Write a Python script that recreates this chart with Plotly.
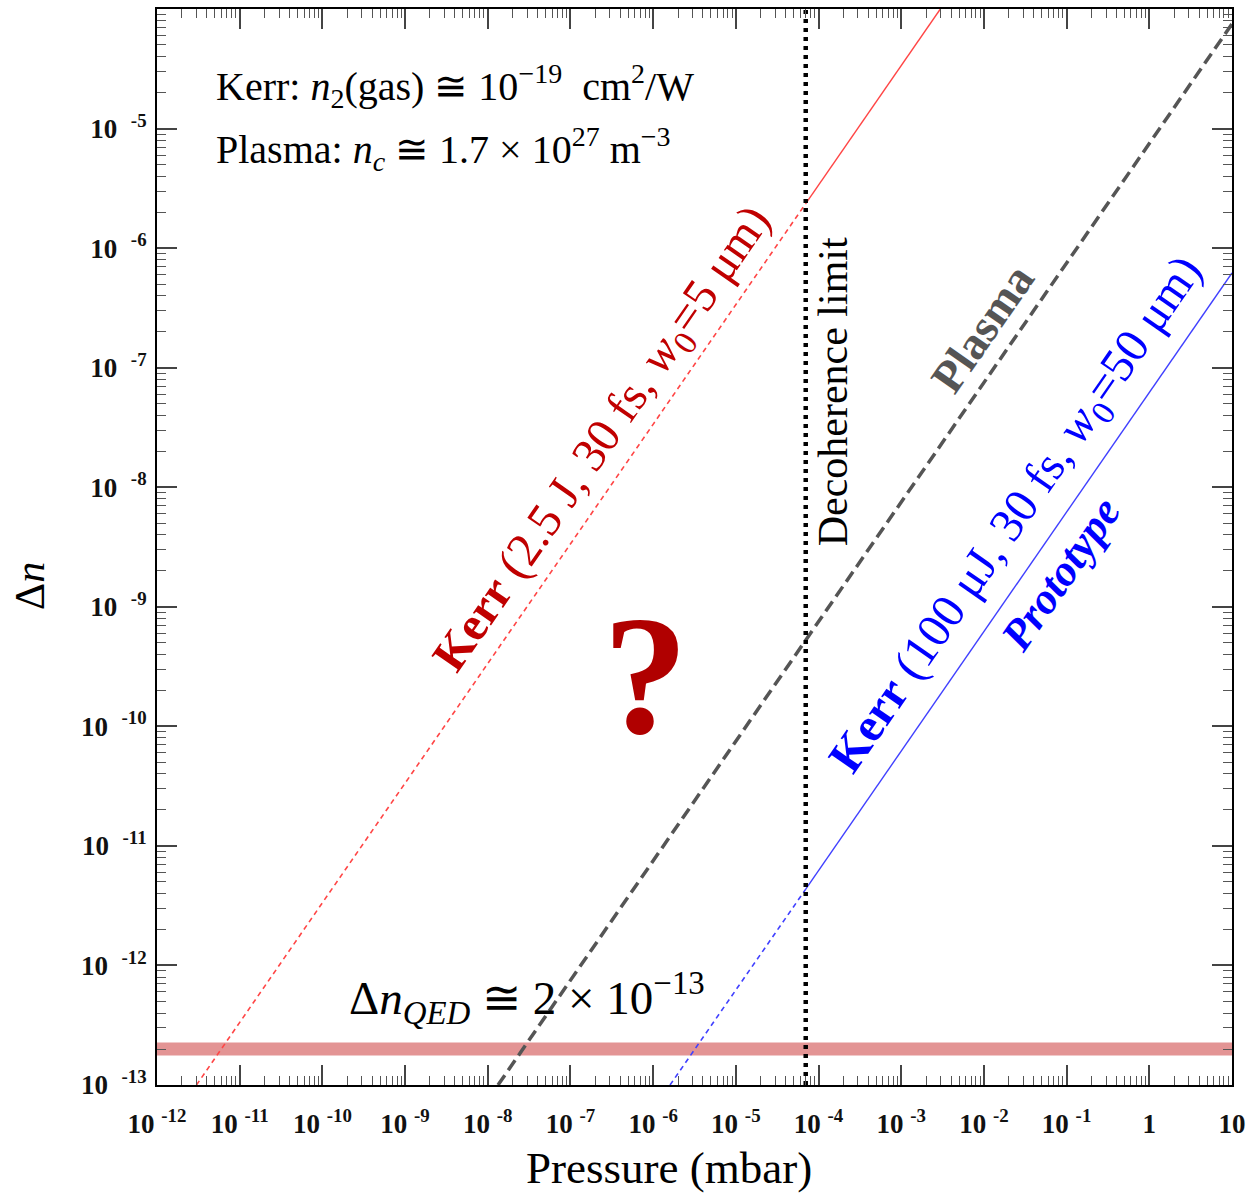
import plotly.graph_objects as go

# ---- data (pressure in mbar, refractive-index change Δn) ----
decoherence_p = 7.0e-5                     # decoherence-limit pressure
decoherence_dn = [1.0e-13, 1.0e-4]

kerr_hi_p_dashed = [3.0e-12, 7.0e-5]       # Kerr, 2.5 J, w0 = 5 µm
kerr_hi_dn_dashed = [1.0e-13, 2.36e-6]
kerr_hi_p_solid = [7.0e-5, 2.97e-3]
kerr_hi_dn_solid = [2.36e-6, 1.0e-4]

plasma_p = [1.33e-8, 10.0]                 # plasma contribution
plasma_dn = [1.0e-13, 7.5e-5]

kerr_lo_p_dashed = [1.6e-6, 7.0e-5]        # Kerr, 100 µJ, w0 = 50 µm (prototype)
kerr_lo_dn_dashed = [1.0e-13, 4.35e-12]
kerr_lo_p_solid = [7.0e-5, 10.0]
kerr_lo_dn_solid = [4.35e-12, 6.2e-7]

qed_p = [1.0e-12, 10.0]                    # QED target level
qed_dn = [2.0e-13, 2.0e-13]

x_tickvals = [1e-12, 1e-11, 1e-10, 1e-9, 1e-8, 1e-7, 1e-6, 1e-5, 1e-4, 1e-3, 1e-2, 1e-1, 1, 10]
x_ticktext = ["10&nbsp;<sup>-12</sup>", "10&nbsp;<sup>-11</sup>", "10&nbsp;<sup>-10</sup>",
              "10&nbsp;<sup>-9</sup>", "10&nbsp;<sup>-8</sup>", "10&nbsp;<sup>-7</sup>",
              "10&nbsp;<sup>-6</sup>", "10&nbsp;<sup>-5</sup>", "10&nbsp;<sup>-4</sup>",
              "10&nbsp;<sup>-3</sup>", "10&nbsp;<sup>-2</sup>", "10&nbsp;<sup>-1</sup>",
              "1", "10"]
y_tickvals = [1e-13, 1e-12, 1e-11, 1e-10, 1e-9, 1e-8, 1e-7, 1e-6, 1e-5]
y_ticktext = ["10&nbsp;&nbsp;<sup>-13</sup>", "10&nbsp;&nbsp;<sup>-12</sup>",
              "10&nbsp;&nbsp;<sup>-11</sup>", "10&nbsp;&nbsp;<sup>-10</sup>",
              "10&nbsp;&nbsp;<sup>-9</sup>", "10&nbsp;&nbsp;<sup>-8</sup>",
              "10&nbsp;&nbsp;<sup>-7</sup>", "10&nbsp;&nbsp;<sup>-6</sup>",
              "10&nbsp;&nbsp;<sup>-5</sup>"]

SERIF = "Liberation Serif"
RED_TEXT = "#c00000"
RED_LINE = "#ff4545"
BLUE = "#0000ff"
BLUE_LINE = "#4040ff"
GRAY = "#555555"
ANGLE = -55.3   # slope-1 line on these log axes

fig = go.Figure()

# QED band
fig.add_trace(go.Scatter(x=qed_p, y=qed_dn, mode="lines",
                         line=dict(color="#e39494", width=13), hoverinfo="skip"))

# Kerr, high energy
fig.add_trace(go.Scatter(x=kerr_hi_p_dashed, y=kerr_hi_dn_dashed, mode="lines",
                         line=dict(color=RED_LINE, width=1.6, dash="5px,4px")))
fig.add_trace(go.Scatter(x=kerr_hi_p_solid, y=kerr_hi_dn_solid, mode="lines",
                         line=dict(color=RED_LINE, width=1.4)))

# Plasma
fig.add_trace(go.Scatter(x=plasma_p, y=plasma_dn, mode="lines",
                         line=dict(color=GRAY, width=3.5, dash="12px,6px")))

# Kerr, prototype
fig.add_trace(go.Scatter(x=kerr_lo_p_dashed, y=kerr_lo_dn_dashed, mode="lines",
                         line=dict(color=BLUE_LINE, width=1.6, dash="5px,4px")))
fig.add_trace(go.Scatter(x=kerr_lo_p_solid, y=kerr_lo_dn_solid, mode="lines",
                         line=dict(color=BLUE_LINE, width=1.4)))

# Decoherence limit
fig.add_trace(go.Scatter(x=[decoherence_p, decoherence_p], y=decoherence_dn, mode="lines",
                         line=dict(color="black", width=4.5, dash="4px,5px")))

axis_common = dict(
    type="log", showgrid=False, zeroline=False,
    showline=True, linecolor="black", linewidth=2, mirror="allticks",
    ticks="inside", ticklen=20, tickwidth=1.5, tickcolor="#444444",
    tickmode="array",
    tickfont=dict(family=SERIF, size=27, color="#111111", weight="bold"),
    minor=dict(ticks="inside", ticklen=9, tickwidth=1.2, tickcolor="#555555",
               dtick="D1", showgrid=False),
)

fig.update_xaxes(**axis_common, range=[-12, 1], tickvals=x_tickvals, ticktext=x_ticktext,
                 ticklabelstandoff=14)
fig.update_yaxes(**axis_common, range=[-13, -4], tickvals=y_tickvals, ticktext=y_ticktext,
                 ticklabelstandoff=3)

ann = []

def note(text, x, y, size, color="black", angle=0, ref="data", **kw):
    d = dict(text=text, x=x, y=y, showarrow=False, textangle=angle,
             font=dict(family=SERIF, size=size, color=color),
             xanchor=kw.pop("xanchor", "center"), yanchor=kw.pop("yanchor", "middle"))
    if ref == "paper":
        d.update(xref="paper", yref="paper")
    d.update(kw)
    ann.append(d)

# axis titles
note("Pressure (mbar)", 0.476, -0.077, 45, ref="paper")
note("Δ<i>n</i>", -0.118, 0.464, 42, angle=-90, ref="paper")

# constants
note("Kerr: <i>n</i><sub>2</sub>(gas) ≅ 10<sup>−19</sup>&nbsp;&nbsp;cm<sup>2</sup>/W",
     -11.306, -4.64, 40, xanchor="left")
note("Plasma: <i>n<sub>c</sub></i> ≅ 1.7 × 10<sup>27</sup> m<sup>−3</sup>",
     -11.306, -5.17, 40, xanchor="left")

# curve labels
note("<b>Kerr</b> (2.5 J, 30 fs, <i>w</i><sub>0</sub>=5 μm)", -6.59, -7.60, 48,
     color=RED_TEXT, angle=ANGLE)
note("<b>Plasma</b>", -2.018, -6.673, 46, color=GRAY, angle=ANGLE)
note("<b>Kerr</b> (100 μJ, 30 fs, <i>w</i><sub>0</sub>=50 μm)", -1.60, -8.24, 48,
     color=BLUE, angle=ANGLE)
note("<b><i>Prototype</i></b>", -1.077, -8.726, 44, color=BLUE, angle=ANGLE)
note("Decoherence limit", -3.815, -7.199, 42, angle=-90)
note("<b>?</b>", -6.095, -9.578, 170, color="#b00000")
note("Δ<i>n</i><sub><i>QED</i></sub> ≅ 2 × 10<sup>−13</sup>", -7.53, -12.27, 47)

fig.update_layout(
    width=1253, height=1196,
    margin=dict(l=157, r=18, t=7, b=111),
    paper_bgcolor="white", plot_bgcolor="white",
    showlegend=False,
    annotations=ann,
    font=dict(family=SERIF),
)

fig.write_html("out.html")
